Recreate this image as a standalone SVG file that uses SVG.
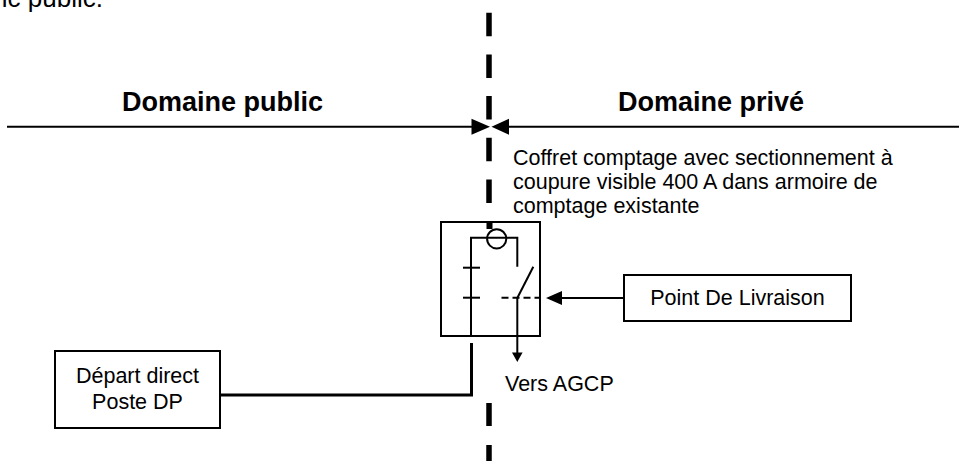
<svg xmlns="http://www.w3.org/2000/svg" width="959" height="461" viewBox="0 0 959 461">
<style>
text{font-family:"Liberation Sans",Arial,sans-serif;fill:#000}
.t{font-size:21.5px}
.h{font-size:27px;font-weight:bold}
.box{fill:#fff;stroke:#000;stroke-width:2}
.w{fill:none;stroke:#000;stroke-width:2}
.dash{fill:none;stroke:#000;stroke-width:5.5}
</style>
<rect width="959" height="461" fill="#fff"/>
<text x="103" y="7" text-anchor="end" style="font-size:26px">ic public.</text>
<g id="boundary">
<line class="dash" x1="489" y1="12.7" x2="489" y2="222" stroke-dasharray="23.5 18.2"/>
<line class="dash" x1="489" y1="403" x2="489" y2="461" stroke-dasharray="23 19"/>
</g>
<g id="domaines">
<text class="h" x="122" y="111">Domaine public</text>
<text class="h" x="618" y="111">Domaine privé</text>
<line class="w" x1="7" y1="126.7" x2="473" y2="126.7"/>
<path d="M471.5,118.7 L490,126.7 L471.5,134.7 z"/>
<line class="w" x1="508" y1="126.7" x2="959" y2="126.7"/>
<path d="M509,118.7 L491.5,126.7 L509,134.7 z"/>
</g>
<g id="coffret">
<rect class="box" x="441" y="222" width="99" height="114"/>
<rect x="486.5" y="222" width="6" height="7"/>
<path class="w" d="M471,336 V237.7 H517.3 V266.7"/>
<circle cx="496.7" cy="238.8" r="9.6" fill="none" stroke="#000" stroke-width="2"/>
<line class="w" x1="463" y1="267.7" x2="480" y2="267.7"/>
<line class="w" x1="463" y1="297.7" x2="480" y2="297.7"/>
<line class="w" x1="517.3" y1="298" x2="533.3" y2="266.7"/>
<line class="w" x1="501.5" y1="297.7" x2="540" y2="297.7" stroke-dasharray="7 4"/>
<text class="t" x="513" y="165">Coffret comptage avec sectionnement à</text>
<text class="t" x="513" y="189">coupure visible 400 A dans armoire de</text>
<text class="t" x="513" y="213">comptage existante</text>
</g>
<g id="depart">
<rect class="box" x="55" y="351" width="165" height="77"/>
<text class="t" x="137.5" y="383" text-anchor="middle">Départ direct</text>
<text class="t" x="137.5" y="408.5" text-anchor="middle">Poste DP</text>
</g>
<g id="pdl">
<rect class="box" x="624" y="275" width="227" height="46"/>
<text class="t" x="737.5" y="305" text-anchor="middle">Point De Livraison</text>
</g>
<g id="agcp">
<text class="t" x="505" y="391">Vers AGCP</text>
</g>
<g id="connectors">
<path d="M220,395 H471.5 V343" fill="none" stroke="#000" stroke-width="3"/>
<line x1="624" y1="298" x2="560" y2="298" stroke="#000" stroke-width="2"/>
<path d="M562,291 L546,298 L562,305 z"/>
<path d="M517.3,298 V355" fill="none" stroke="#000" stroke-width="2"/>
<path d="M512,352.5 L517.3,362 L522.6,352.5 z"/>
</g>
</svg>
